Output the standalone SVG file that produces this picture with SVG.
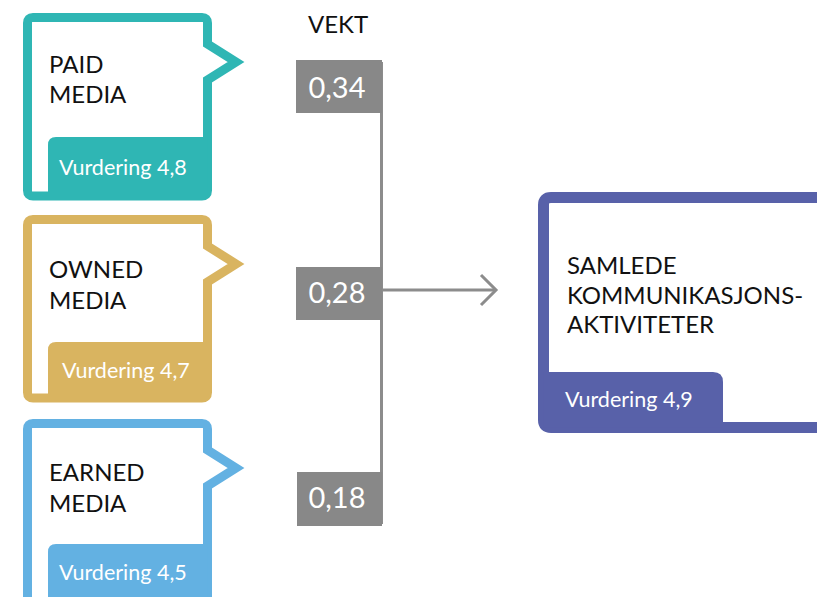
<svg xmlns="http://www.w3.org/2000/svg" width="817" height="597" viewBox="0 0 817 597">
<style>
.frame{fill:#fff;stroke-width:9;stroke-linejoin:miter;stroke-miterlimit:6}
.title{font-family:Lato,"Open Sans",sans-serif;font-size:24px;fill:#111}
.rate{font-family:Lato,"Open Sans",sans-serif;font-size:21.5px;fill:#fff}
.wbox{fill:#888}
.wtext{font-family:Lato,"Open Sans",sans-serif;font-size:29px;fill:#fff;text-anchor:middle}
.conn{fill:none;stroke:#8c8c8c;stroke-width:3}
</style>
<defs>
<path id="frameShape" d="M33,17.5 L202,17.5 Q207.5,17.5 207.5,23 L207.5,44 L236,62 L207.5,80 L207.5,190.5 Q207.5,196 202,196 L33,196 Q27.5,196 27.5,190.5 L27.5,23 Q27.5,17.5 33,17.5 Z"/>
<path id="tabShape" d="M48,196 L48,145 Q48,137 56,137 L207.5,137 L207.5,196 Z"/>
</defs>
<g id="connectors">
<line class="conn" x1="381.5" y1="62" x2="381.5" y2="524" stroke="#9a9a9a"/>
<line class="conn" x1="383" y1="290" x2="496" y2="290"/>
<polyline class="conn" points="481,275 496,290 481,305"/>
</g>
<g id="paid">
<use href="#frameShape" class="frame" stroke="#2fb6b4"/>
<use href="#tabShape" fill="#2fb6b4"/>
<text class="title" x="49" y="73">PAID</text>
<text class="title" x="49" y="103">MEDIA</text>
<text class="rate" x="59" y="175">Vurdering 4,8</text>
</g>
<g id="owned">
<use href="#frameShape" class="frame" stroke="#d9b460" transform="translate(0,202)"/>
<use href="#tabShape" fill="#d9b460" transform="translate(0,205)"/>
<text class="title" x="49" y="278">OWNED</text>
<text class="title" x="49" y="309">MEDIA</text>
<text class="rate" x="62" y="378">Vurdering 4,7</text>
</g>
<g id="earned">
<use href="#frameShape" class="frame" stroke="#63b1e2" transform="translate(0,406)"/>
<use href="#tabShape" fill="#63b1e2" transform="translate(0,407)"/>
<text class="title" x="49" y="481">EARNED</text>
<text class="title" x="49" y="512">MEDIA</text>
<text class="rate" x="59" y="580">Vurdering 4,5</text>
</g>
<g id="vekt">
<text class="title" x="308" y="33">VEKT</text>
</g>
<g id="w034">
<rect class="wbox" x="296" y="60" width="86" height="53"/>
<text class="wtext" x="337" y="98">0,34</text>
</g>
<g id="w028">
<rect class="wbox" x="296" y="267" width="86" height="53"/>
<text class="wtext" x="337" y="303">0,28</text>
</g>
<g id="w018">
<rect class="wbox" x="297" y="472" width="85" height="54"/>
<text class="wtext" x="337" y="508">0,18</text>
</g>
<g id="samlede">
<path d="M551,197.5 L830,197.5 L830,427.5 L551,427.5 Q543.5,427.5 543.5,420 L543.5,205 Q543.5,197.5 551,197.5 Z" fill="#fff" stroke="#5861a9" stroke-width="11"/>
<path d="M543.5,427.5 L543.5,372 L713,372 Q723,372 723,382 L723,427.5 Z" fill="#5861a9"/>
<text class="title" x="567" y="274">SAMLEDE</text>
<text class="title" x="567" y="304">KOMMUNIKASJONS-</text>
<text class="title" x="567" y="333">AKTIVITETER</text>
<text class="rate" x="565" y="407">Vurdering 4,9</text>
</g>
</svg>
